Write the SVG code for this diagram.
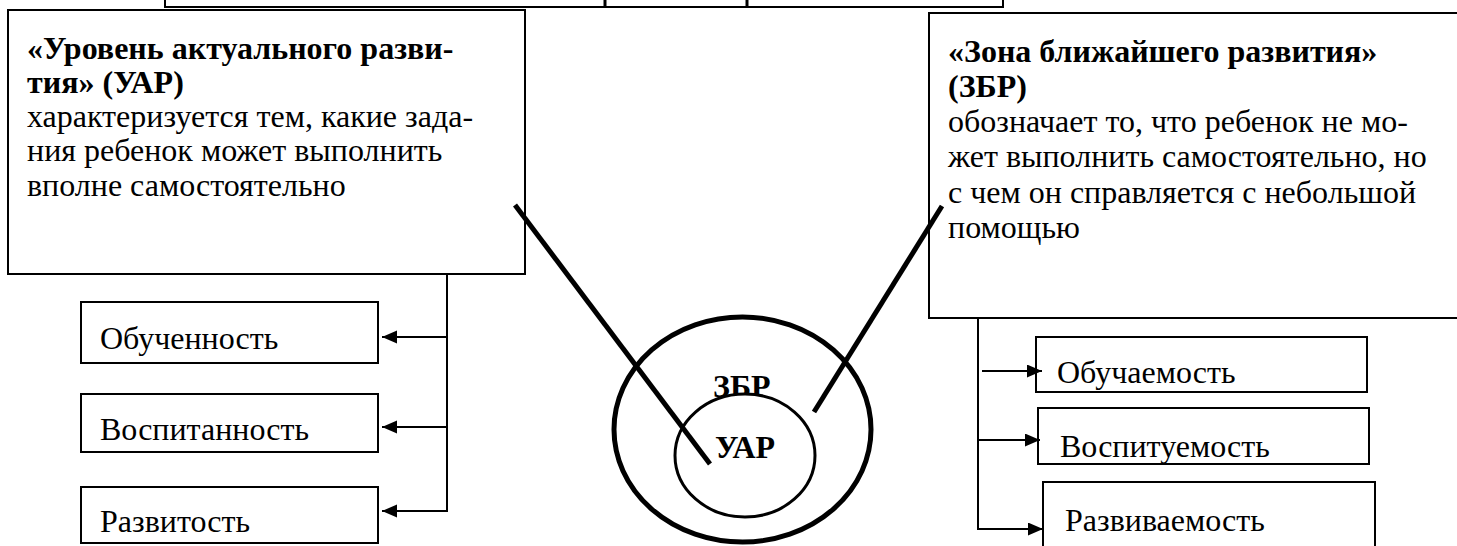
<svg xmlns="http://www.w3.org/2000/svg" width="1457" height="546" viewBox="0 0 1457 546">
<style>
.box{fill:#fff;stroke:#000;stroke-width:2}
.conn{stroke:#000;stroke-width:2;fill:none}
.thick{stroke:#000;stroke-width:5;fill:none}
</style>
<defs>
<marker id="ah" markerUnits="userSpaceOnUse" markerWidth="16" markerHeight="14" refX="15" refY="6.5" orient="auto">
<path d="M0,0 L15,6.5 L0,13 Z" fill="#000"/>
</marker>
</defs>
<rect width="1457" height="546" fill="#fff"/>
<g id="top-box">
<rect class="box" x="165" y="-40" width="838" height="47"/>
<line x1="605" y1="0" x2="605" y2="7" stroke="#000" stroke-width="3"/>
<line x1="747" y1="0" x2="747" y2="7" stroke="#000" stroke-width="3"/>
</g>
<g id="uar-box">
<rect class="box" x="8" y="10" width="517" height="264"/>
<text font-family="Liberation Serif" font-size="32" font-weight="bold" x="27" y="59">«Уровень актуального разви-</text>
<text font-family="Liberation Serif" font-size="32" font-weight="bold" x="27" y="93">тия» (УАР)</text>
<text font-family="Liberation Serif" font-size="32" x="27" y="127">характеризуется тем, какие зада-</text>
<text font-family="Liberation Serif" font-size="32" x="27" y="161">ния ребенок может выполнить</text>
<text font-family="Liberation Serif" font-size="32" x="27" y="196">вполне самостоятельно</text>
</g>
<g id="zbr-box">
<rect class="box" x="929" y="13" width="540" height="305"/>
<text font-family="Liberation Serif" font-size="32" font-weight="bold" x="948" y="62">«Зона ближайшего развития»</text>
<text font-family="Liberation Serif" font-size="32" font-weight="bold" x="948" y="97">(ЗБР)</text>
<text font-family="Liberation Serif" font-size="32" x="948" y="132">обозначает то, что ребенок не мо-</text>
<text font-family="Liberation Serif" font-size="32" x="948" y="167">жет выполнить самостоятельно, но</text>
<text font-family="Liberation Serif" font-size="32" x="948" y="203">с чем он справляется с небольшой</text>
<text font-family="Liberation Serif" font-size="32" x="948" y="238">помощью</text>
</g>
<g id="l1"><rect class="box" x="81" y="302" width="297" height="61"/><text font-family="Liberation Serif" font-size="32" x="100" y="349">Обученность</text></g>
<g id="l2"><rect class="box" x="81" y="394" width="297" height="58"/><text font-family="Liberation Serif" font-size="32" x="100" y="440">Воспитанность</text></g>
<g id="l3"><rect class="box" x="81" y="487" width="297" height="56"/><text font-family="Liberation Serif" font-size="32" x="100" y="532">Развитость</text></g>
<g id="r1"><rect class="box" x="1036" y="337" width="331" height="55"/><text font-family="Liberation Serif" font-size="32" x="1057" y="383">Обучаемость</text></g>
<g id="r2"><rect class="box" x="1038" y="408" width="331" height="56"/><text font-family="Liberation Serif" font-size="32" x="1060" y="457">Воспитуемость</text></g>
<g id="r3"><rect class="box" x="1043" y="482" width="332" height="80"/><text font-family="Liberation Serif" font-size="32" x="1065" y="531">Развиваемость</text></g>
<g id="circles">
<ellipse cx="742.5" cy="429.5" rx="128.5" ry="112.5" fill="none" stroke="#000" stroke-width="5"/>
<text font-family="Liberation Serif" font-size="32" font-weight="bold" x="713" y="397">ЗБР</text>
<ellipse cx="745" cy="455.5" rx="70" ry="61.5" fill="#fff" stroke="#000" stroke-width="3"/>
<text font-family="Liberation Serif" font-size="32" font-weight="bold" x="715" y="458">УАР</text>
</g>
<g id="connectors">
<line class="conn" x1="447" y1="274" x2="447" y2="512"/>
<line class="conn" x1="446" y1="337" x2="382" y2="337" marker-end="url(#ah)"/>
<line class="conn" x1="446" y1="427" x2="382" y2="427" marker-end="url(#ah)"/>
<line class="conn" x1="446" y1="511" x2="382" y2="511" marker-end="url(#ah)"/>
<line class="conn" x1="978" y1="318" x2="978" y2="530"/>
<line class="conn" x1="982" y1="371" x2="1042" y2="371" marker-end="url(#ah)"/>
<line class="conn" x1="979" y1="440" x2="1040" y2="440" marker-end="url(#ah)"/>
<line class="conn" x1="979" y1="529" x2="1043" y2="529" marker-end="url(#ah)"/>
<line class="thick" x1="515" y1="205" x2="710" y2="464"/>
<line class="thick" x1="942" y1="206" x2="814" y2="412"/>
</g>
</svg>
